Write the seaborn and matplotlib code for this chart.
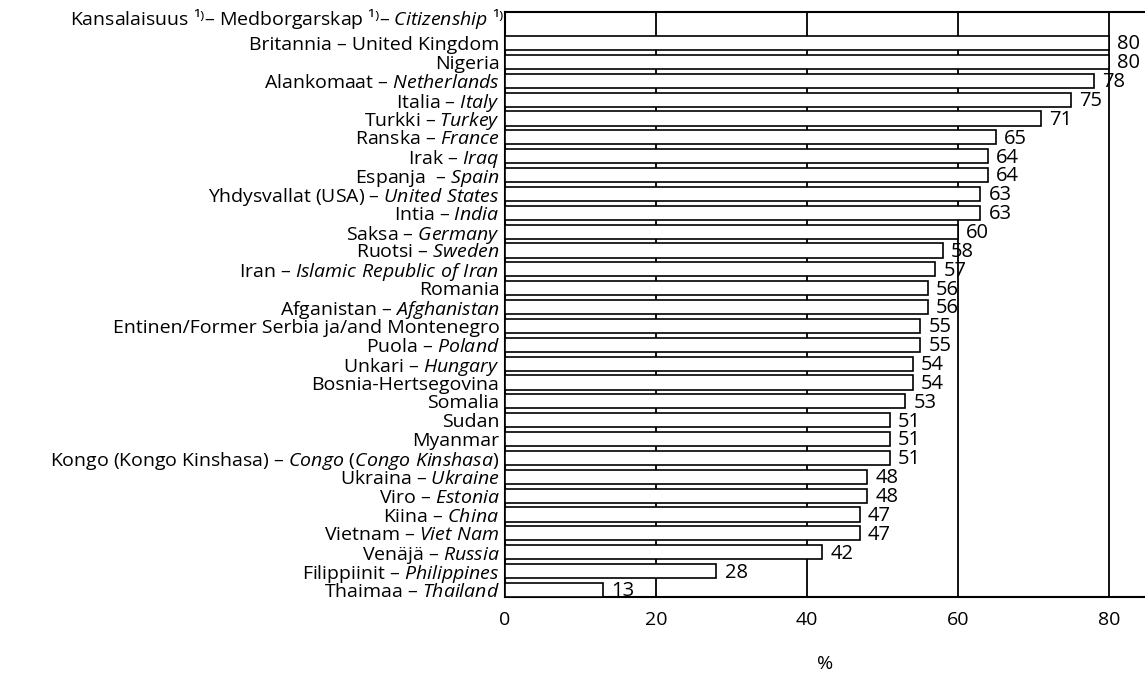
import matplotlib
matplotlib.use("Agg")
import matplotlib.pyplot as plt
import matplotlib.transforms as mtransforms
import seaborn as sns
import pandas as pd

# Data
maat_fi = ['Britannia', 'Nigeria', 'Alankomaat', 'Italia', 'Turkki', 'Ranska', 'Irak',
           'Espanja ', 'Yhdysvallat (USA)', 'Intia', 'Saksa', 'Ruotsi', 'Iran', 'Romania',
           'Afganistan', 'Entinen/Former Serbia ja/and Montenegro', 'Puola', 'Unkari',
           'Bosnia-Hertsegovina', 'Somalia', 'Sudan', 'Myanmar', 'Kongo (Kongo Kinshasa)',
           'Ukraina', 'Viro', 'Kiina', 'Vietnam', 'Venäjä', 'Filippiinit', 'Thaimaa']
maat_en = [None, None, 'Netherlands', 'Italy', 'Turkey', 'France', 'Iraq',
           'Spain', 'United States', 'India', 'Germany', 'Sweden', 'Islamic Republic of Iran', None,
           'Afghanistan', None, 'Poland', 'Hungary',
           None, None, None, None, 'Congo (Congo Kinshasa)',
           'Ukraine', 'Estonia', 'China', 'Viet Nam', 'Russia', 'Philippines', 'Thailand']
osuus = [80, 80, 78, 75, 71, 65, 64, 64, 63, 63, 60, 58, 57, 56, 56, 55, 55, 54, 54,
         53, 51, 51, 51, 48, 48, 47, 47, 42, 28, 13]
x_ticks = [0, 20, 40, 60, 80]


def tee_nimi(fi, en):
    if en is None:
        return fi
    return fi + ' – ' + r'$\mathit{' + en.replace(' ', r'\ ') + '}$'


nimet = [tee_nimi(f, e) for f, e in zip(maat_fi, maat_en)]
nimet[0] = 'Britannia – United Kingdom'

dados = pd.DataFrame({'maa': maat_fi, 'osuus': osuus})

sns.set_style('white')
plt.rcParams['font.family'] = ['Open Sans', 'DejaVu Sans']
plt.rcParams['mathtext.fontset'] = 'custom'
plt.rcParams['mathtext.rm'] = 'Open Sans'
plt.rcParams['mathtext.it'] = 'Open Sans:italic'
plt.rcParams['text.color'] = 'black'
plt.rcParams['xtick.color'] = 'black'
plt.rcParams['ytick.color'] = 'black'
plt.rcParams['axes.labelcolor'] = 'black'

fs = 14

fig = plt.figure(figsize=(11.45, 6.73), dpi=100)
ax = fig.add_axes([0.441, 0.113, 0.559, 0.869])

sns.barplot(data=dados, x='osuus', y='maa', orient='h', color='white',
            edgecolor='black', linewidth=1.2, width=0.75, saturation=1, ax=ax, zorder=3)

for i, v in enumerate(osuus):
    ax.annotate(str(v), (v, i), xytext=(6, -1), textcoords='offset points',
                ha='left', va='center', fontsize=14.5, zorder=4)

ax.set_xlim(0, 84.8)
ax.set_ylim(29.37, -1.64)
ax.set_xticks(x_ticks)
ax.set_yticks(range(len(nimet)))
ax.set_yticklabels(nimet, fontsize=fs)
ax.tick_params(axis='y', length=0, pad=4)
ax.tick_params(axis='x', length=0, pad=10, labelsize=fs)
ax.set_xlabel('%', fontsize=fs, labelpad=19)
ax.set_ylabel('')

for x in x_ticks[1:]:
    ax.axvline(x, color='black', linewidth=1.3, zorder=1)

for side in ['left', 'bottom', 'top']:
    ax.spines[side].set_color('black')
    ax.spines[side].set_linewidth(1.5)
ax.spines['right'].set_visible(False)

trans = mtransforms.blended_transform_factory(ax.transAxes, ax.transData)
ax.text(-0.001, -1.3, r'Kansalaisuus ¹⁾– Medborgarskap ¹⁾– $\mathit{Citizenship}$ ¹⁾',
        transform=trans, ha='right', va='center', fontsize=fs)

plt.savefig('out.png', dpi=100)
